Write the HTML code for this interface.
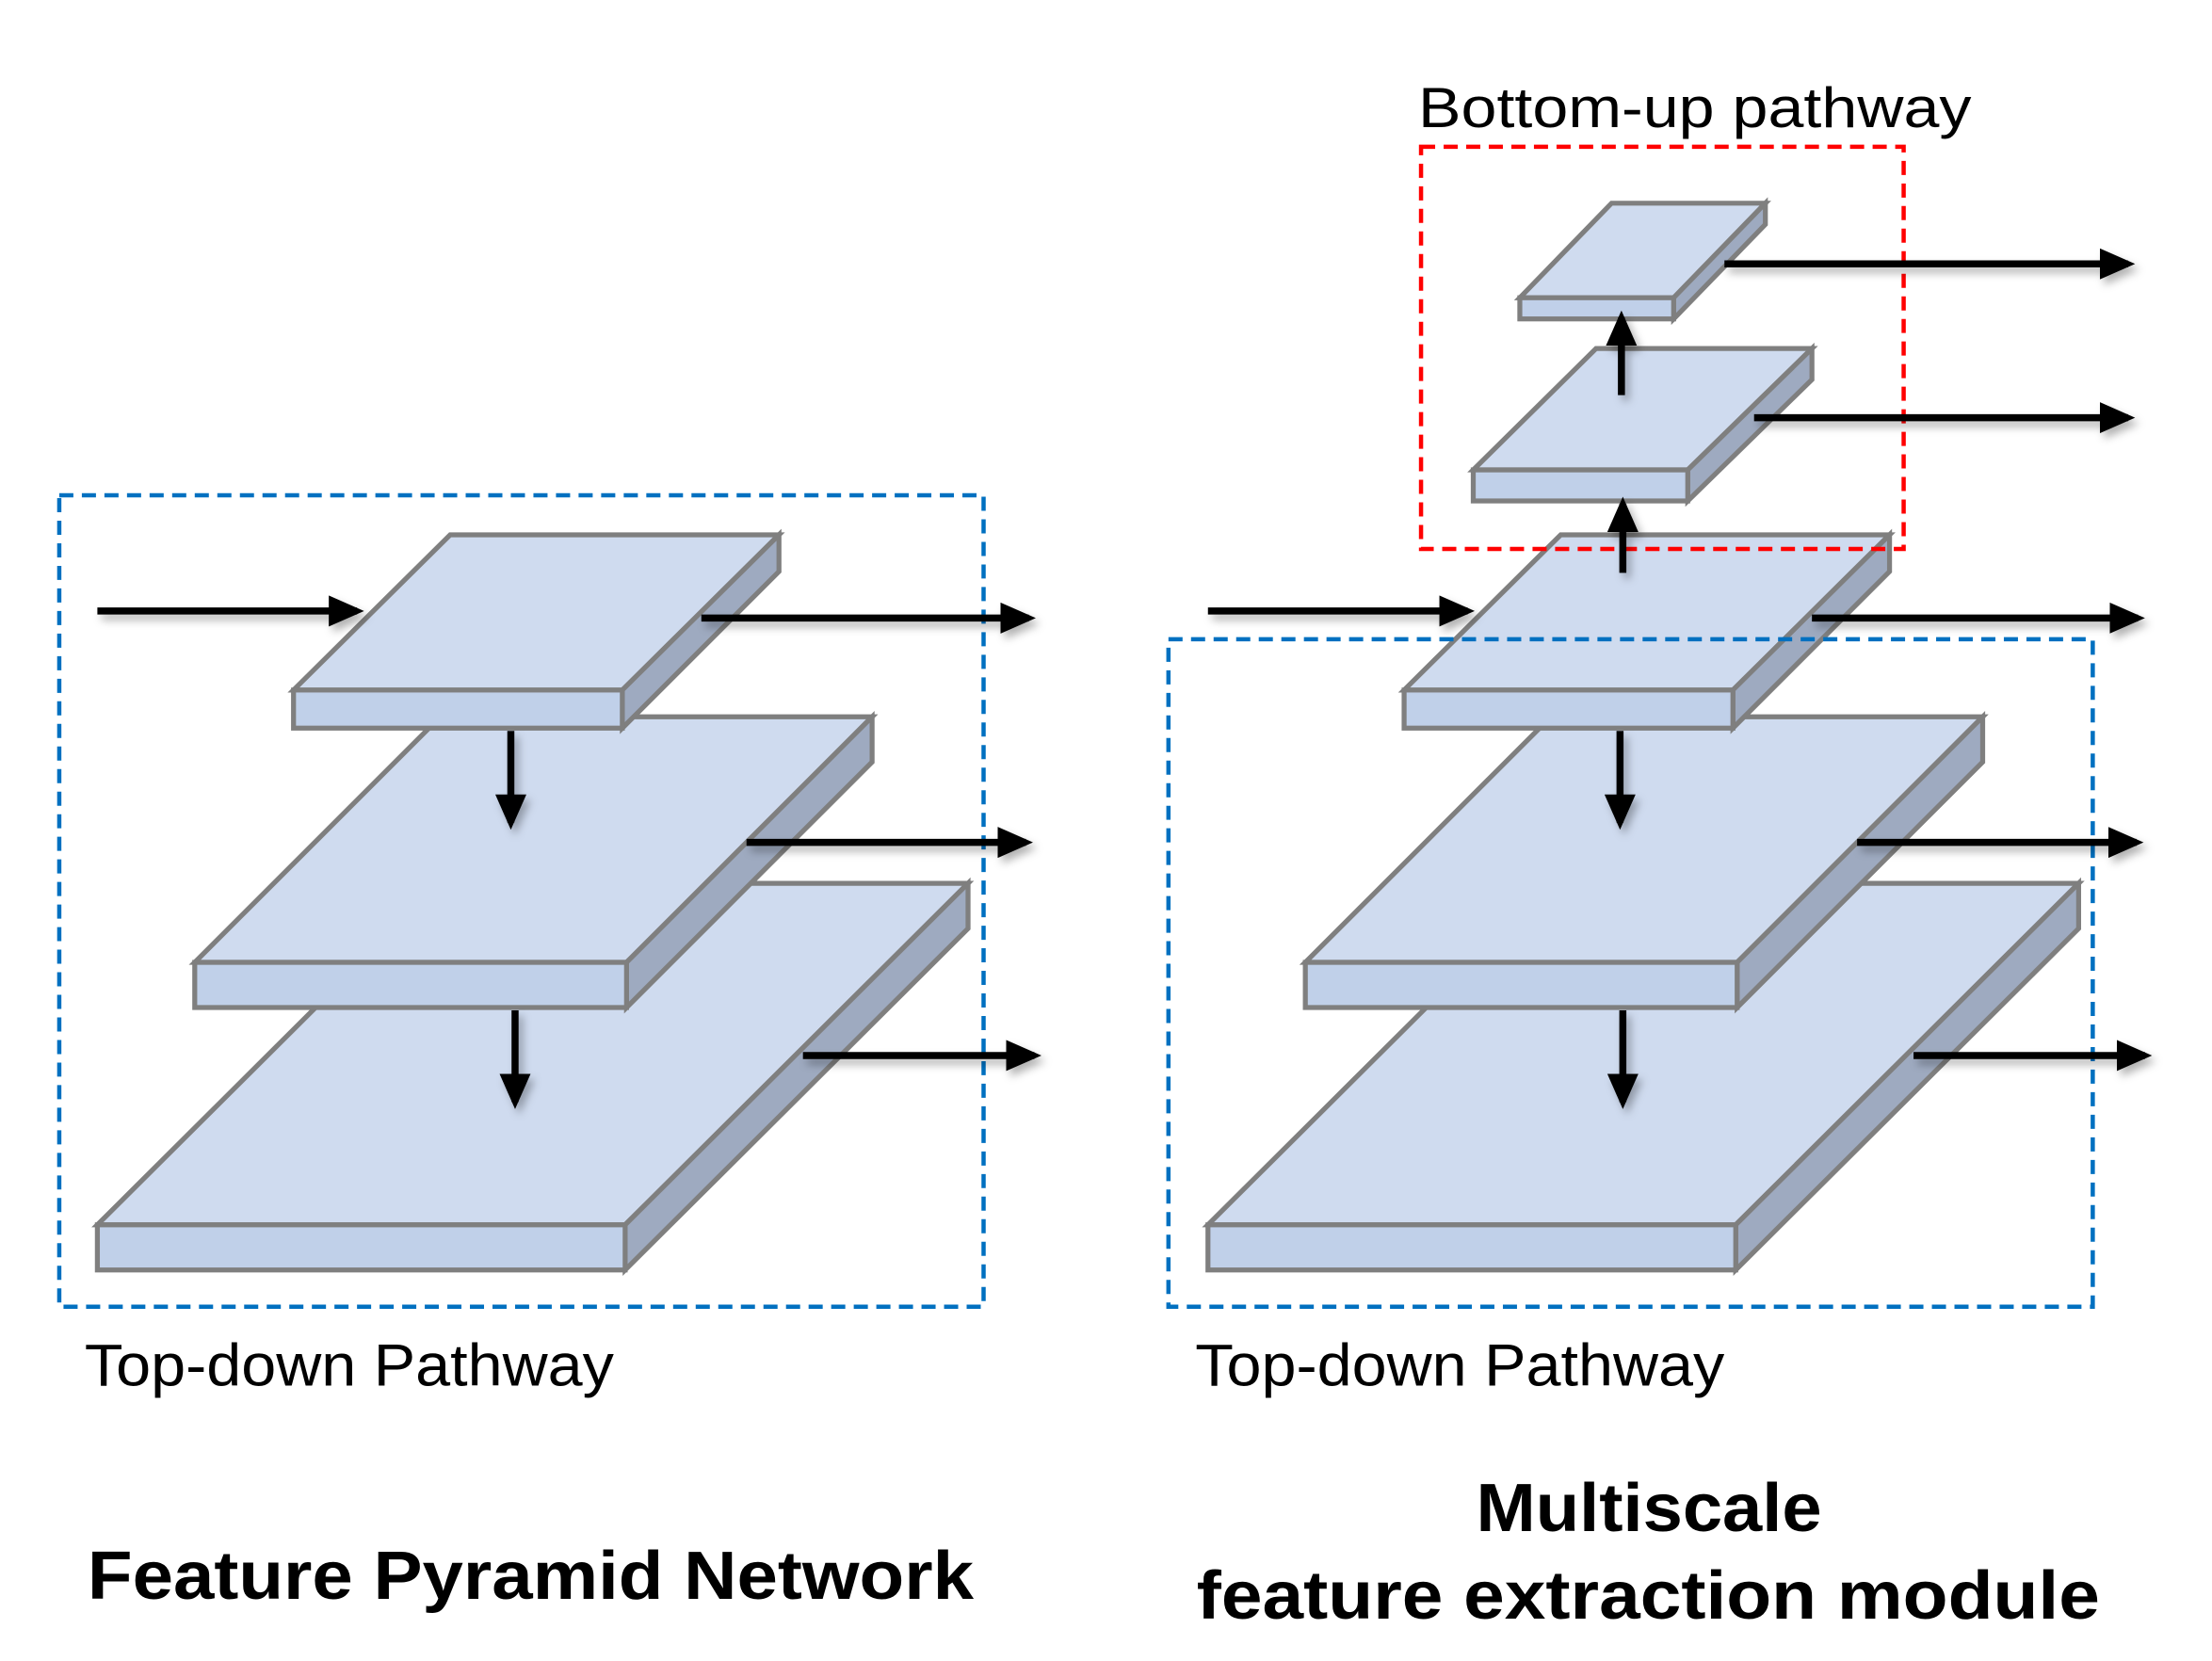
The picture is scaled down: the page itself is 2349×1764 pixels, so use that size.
<!DOCTYPE html>
<html><head><meta charset="utf-8"><style>html,body{margin:0;padding:0;background:#fff;}svg{display:block}</style></head>
<body>
<svg width="2349" height="1764" viewBox="0 0 1567.5 1177.1" xmlns="http://www.w3.org/2000/svg">
<defs>
<marker id="ah" markerWidth="5" markerHeight="4.4" refX="4" refY="2.2" orient="auto" markerUnits="strokeWidth">
<path d="M0,0 L5,2.2 L0,4.4 z" fill="#000"/>
</marker>
<filter id="sh" x="-20%" y="-50%" width="140%" height="200%"><feDropShadow dx="3" dy="4" stdDeviation="3" flood-color="#000" flood-opacity="0.3"/></filter>
</defs>
<g stroke="#7f7f7f" stroke-width="3.5" stroke-linejoin="miter">
<polygon points="69,868 443,868 686,626 312,626" fill="#cfdbef"/>
<polygon points="443,868 686,626 686,658 443,900" fill="#9eaac0"/>
<rect x="69" y="868" width="374" height="32" fill="#c0d0e9"/>
<polygon points="138,682 444,682 618,508 312,508" fill="#cfdbef"/>
<polygon points="444,682 618,508 618,540 444,714" fill="#9eaac0"/>
<rect x="138" y="682" width="306" height="32" fill="#c0d0e9"/>
<polygon points="208,489 441,489 552,379 319,379" fill="#cfdbef"/>
<polygon points="441,489 552,379 552,405 441,516" fill="#9eaac0"/>
<rect x="208" y="489" width="233" height="27" fill="#c0d0e9"/>
<polygon points="856,868 1230,868 1473,626 1099,626" fill="#cfdbef"/>
<polygon points="1230,868 1473,626 1473,658 1230,900" fill="#9eaac0"/>
<rect x="856" y="868" width="374" height="32" fill="#c0d0e9"/>
<polygon points="925,682 1231,682 1405,508 1099,508" fill="#cfdbef"/>
<polygon points="1231,682 1405,508 1405,540 1231,714" fill="#9eaac0"/>
<rect x="925" y="682" width="306" height="32" fill="#c0d0e9"/>
<polygon points="995,489 1228,489 1339,379 1106,379" fill="#cfdbef"/>
<polygon points="1228,489 1339,379 1339,405 1228,516" fill="#9eaac0"/>
<rect x="995" y="489" width="233" height="27" fill="#c0d0e9"/>
<polygon points="1044,333 1196,333 1284,247 1131,247" fill="#cfdbef"/>
<polygon points="1196,333 1284,247 1284,269 1196,355" fill="#9eaac0"/>
<rect x="1044" y="333" width="152" height="22" fill="#c0d0e9"/>
<polygon points="1077,211 1186,211 1251,144 1142,144" fill="#cfdbef"/>
<polygon points="1186,211 1251,144 1251,159 1186,226" fill="#9eaac0"/>
<rect x="1077" y="211" width="109" height="15" fill="#c0d0e9"/>
</g>
<g fill="none" stroke-width="3" stroke-dasharray="10,6">
<rect x="42" y="351" width="655" height="575" stroke="#0070c0"/>
<rect x="828" y="453" width="655" height="473" stroke="#0070c0"/>
<rect x="1007" y="104" width="342" height="285" stroke="#ff0000"/>
</g>
<g stroke="#000" stroke-width="5" marker-end="url(#ah)" filter="url(#sh)">
<line x1="69" y1="433" x2="253" y2="433"/>
<line x1="497" y1="438" x2="729" y2="438"/>
<line x1="529" y1="597" x2="727" y2="597"/>
<line x1="569" y1="748" x2="733" y2="748"/>
<line x1="362" y1="518" x2="362" y2="583"/>
<line x1="365" y1="716" x2="365" y2="781"/>
<line x1="856" y1="433" x2="1040" y2="433"/>
<line x1="1222" y1="187" x2="1508" y2="187"/>
<line x1="1243" y1="296" x2="1508" y2="296"/>
<line x1="1284" y1="438" x2="1515" y2="438"/>
<line x1="1316" y1="597" x2="1514" y2="597"/>
<line x1="1356" y1="748" x2="1520" y2="748"/>
<line x1="1148" y1="518" x2="1148" y2="583"/>
<line x1="1150" y1="716" x2="1150" y2="781"/>
<line x1="1149" y1="280" x2="1149" y2="225"/>
<line x1="1150" y1="406" x2="1150" y2="357"/>
</g>
<g font-family="Liberation Sans, sans-serif" fill="#000">
<text x="1005" y="90" font-size="40" textLength="392" lengthAdjust="spacingAndGlyphs">Bottom-up pathway</text>
<text x="60" y="982" font-size="42" textLength="375" lengthAdjust="spacingAndGlyphs">Top-down Pathway</text>
<text x="847" y="982" font-size="42" textLength="375" lengthAdjust="spacingAndGlyphs">Top-down Pathway</text>
<text x="62" y="1133" font-size="48" font-weight="bold" textLength="628" lengthAdjust="spacingAndGlyphs">Feature Pyramid Network</text>
<text x="1046" y="1085" font-size="48" font-weight="bold" textLength="245" lengthAdjust="spacingAndGlyphs">Multiscale</text>
<text x="848" y="1147" font-size="48" font-weight="bold" textLength="640" lengthAdjust="spacingAndGlyphs">feature extraction module</text>
</g>
</svg>
</body></html>
